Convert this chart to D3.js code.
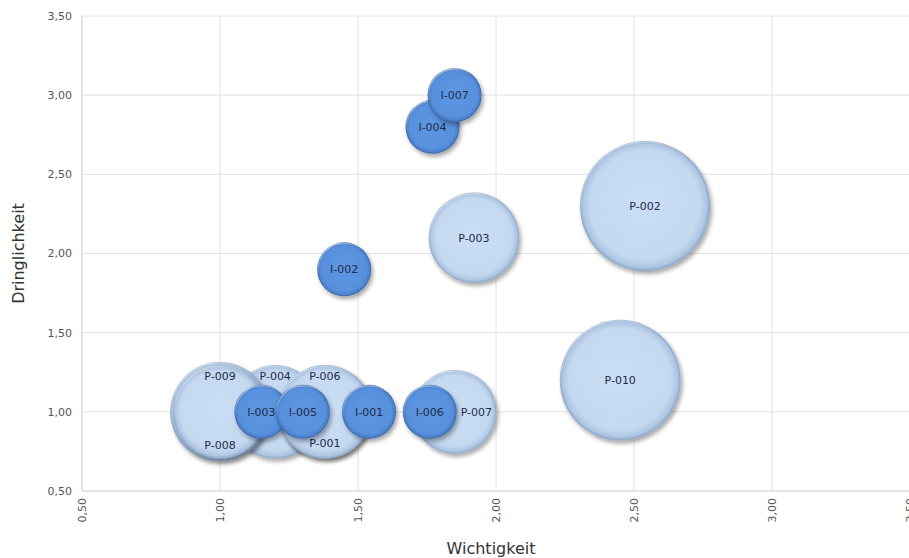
<!DOCTYPE html>
<html>
<head>
<meta charset="utf-8">
<script src="https://cdn.jsdelivr.net/npm/d3@7"></script>
<style>
  body { margin: 0; background: #fff; }
  svg { font-family: "DejaVu Sans", Verdana, sans-serif; }
</style>
</head>
<body>
<div id="chart"></div>
<script>
// bubbles: P series (light) drawn first, I series (dark) on top
var pNames = ["P-002", "P-010", "P-003", "P-004", "P-008", "P-009", "P-001", "P-006", "P-007"];
var pX     = [2.54, 2.45, 1.92, 1.20, 1.00, 1.00, 1.38, 1.38, 1.85];
var pY     = [2.30, 1.20, 2.10, 1.00, 1.00, 1.00, 1.00, 1.00, 1.00];
var pSize  = [5.8, 5.0, 2.8, 3.0, 3.4, 3.0, 3.0, 3.0, 2.4];
var pLabel = ["c", "c", "c", "t", "b", "t", "b", "t", "r"];

var iNames = ["I-002", "I-004", "I-007", "I-003", "I-005", "I-001", "I-006"];
var iX     = [1.45, 1.77, 1.85, 1.15, 1.30, 1.54, 1.76];
var iY     = [1.90, 2.80, 3.00, 1.00, 1.00, 1.00, 1.00];
var iSize  = [1, 1, 1, 1, 1, 1, 1];
var iLabel = ["c", "c", "c", "c", "c", "c", "c"];

var xTicks = [0.5, 1.0, 1.5, 2.0, 2.5, 3.0, 3.5];
var yTicks = [0.5, 1.0, 1.5, 2.0, 2.5, 3.0, 3.5];

var width = 909, height = 558;
var margin = {left: 82, top: 16, right: -1, bottom: 67};

var de = d3.formatLocale({decimal: ",", thousands: ".", grouping: [3], currency: ["", " €"]});
var fmt = de.format(".2f");

var svg = d3.select("#chart").append("svg")
    .attr("width", width)
    .attr("height", height);

var x = d3.scaleLinear().domain([0.5, 3.5]).range([margin.left, width - margin.right]);
var y = d3.scaleLinear().domain([0.5, 3.5]).range([height - margin.bottom, margin.top]);
var r = d3.scaleSqrt().domain([0, 1]).range([0, 27]);

var defs = svg.append("defs");
var shadow = defs.append("filter").attr("id", "shadow")
    .attr("x", "-30%").attr("y", "-30%").attr("width", "160%").attr("height", "160%");
shadow.append("feDropShadow")
    .attr("dx", 2).attr("dy", 3).attr("stdDeviation", 2.2)
    .attr("flood-color", "#000").attr("flood-opacity", 0.35);

function bevel(id, c0, c1, c2, c3) {
    var g = defs.append("radialGradient").attr("id", id)
        .attr("cx", "50%").attr("cy", "50%").attr("r", "50%")
        .attr("fx", "48%").attr("fy", "44%");
    g.append("stop").attr("offset", "0%").attr("stop-color", c0);
    g.append("stop").attr("offset", "84%").attr("stop-color", c1);
    g.append("stop").attr("offset", "95%").attr("stop-color", c2);
    g.append("stop").attr("offset", "100%").attr("stop-color", c3);
    var h = defs.append("linearGradient").attr("id", id + "-hi")
        .attr("x1", 0).attr("y1", 0).attr("x2", 0.6).attr("y2", 1);
    h.append("stop").attr("offset", "0%").attr("stop-color", "#fff").attr("stop-opacity", 0.75);
    h.append("stop").attr("offset", "45%").attr("stop-color", "#fff").attr("stop-opacity", 0);
}
bevel("gradP", "#cadef5", "#c4d8f0", "#aec5e2", "#8ba5c6");
bevel("gradI", "#5d97e3", "#5890dc", "#4a7ec8", "#34609f");

// grid
svg.append("g").selectAll("line.v")
    .data(xTicks).enter().append("line")
    .attr("x1", function(d) { return x(d); })
    .attr("x2", function(d) { return x(d); })
    .attr("y1", y(0.5)).attr("y2", y(3.5))
    .style("stroke", "#e2e2e2");
svg.append("g").selectAll("line.h")
    .data(yTicks).enter().append("line")
    .attr("x1", x(0.5)).attr("x2", x(3.5))
    .attr("y1", function(d) { return y(d); })
    .attr("y2", function(d) { return y(d); })
    .style("stroke", "#e2e2e2");
svg.append("line")
    .attr("x1", x(0.5)).attr("x2", x(0.5)).attr("y1", y(0.5)).attr("y2", y(3.5))
    .style("stroke", "#d6d6d6");
svg.append("line")
    .attr("x1", x(0.5)).attr("x2", x(3.5)).attr("y1", y(0.5)).attr("y2", y(0.5))
    .style("stroke", "#d6d6d6");

// tick labels
svg.append("g").selectAll("text")
    .data(yTicks).enter().append("text")
    .attr("x", margin.left - 10)
    .attr("y", function(d) { return y(d); })
    .attr("dy", "0.35em")
    .attr("text-anchor", "end")
    .style("font-size", "11px")
    .style("fill", "#555")
    .text(function(d) { return fmt(d); });

svg.append("g").selectAll("text")
    .data(xTicks).enter().append("text")
    .attr("transform", function(d) { return "translate(" + x(d) + "," + (y(0.5) + 7) + ") rotate(-90)"; })
    .attr("dy", "0.35em")
    .attr("text-anchor", "end")
    .style("font-size", "11px")
    .style("fill", "#555")
    .text(function(d) { return fmt(d); });

// axis titles
svg.append("text")
    .attr("x", 491).attr("y", height - 4)
    .attr("text-anchor", "middle")
    .style("font-size", "16px")
    .style("fill", "#333")
    .text("Wichtigkeit");
svg.append("text")
    .attr("transform", "translate(24," + y(2.0) + ") rotate(-90)")
    .attr("text-anchor", "middle")
    .style("font-size", "16px")
    .style("fill", "#333")
    .text("Dringlichkeit");

function series(names, xs, ys, sizes, labels, grad) {
    var data = names.map(function(n, i) {
        return {name: n, x: xs[i], y: ys[i], size: sizes[i], label: labels[i]};
    });
    var g = svg.append("g");
    var b = g.selectAll("g.bubble").data(data).enter().append("g")
        .attr("class", "bubble");
    b.append("circle")
        .attr("cx", function(d) { return x(d.x); })
        .attr("cy", function(d) { return y(d.y); })
        .attr("r", function(d) { return r(d.size); })
        .attr("filter", "url(#shadow)")
        .style("fill", "url(#" + grad + ")");
    b.append("circle")
        .attr("cx", function(d) { return x(d.x); })
        .attr("cy", function(d) { return y(d.y); })
        .attr("r", function(d) { return r(d.size) - 1; })
        .style("fill", "none")
        .style("stroke", "url(#" + grad + "-hi)")
        .style("stroke-width", 1.5);
    return data;
}

function labelsFor(data) {
    svg.append("g").selectAll("text")
        .data(data).enter().append("text")
        .attr("x", function(d) {
            var rr = r(d.size);
            return x(d.x) + (d.label === "r" ? rr * 0.52 : 0);
        })
        .attr("y", function(d) {
            var rr = r(d.size);
            if (d.label === "t") return y(d.y) - rr * 0.76;
            if (d.label === "b") return y(d.y) + rr * 0.66;
            return y(d.y);
        })
        .attr("dy", "0.35em")
        .attr("text-anchor", "middle")
        .style("font-size", "11px")
        .style("fill", "#1e2b48")
        .text(function(d) { return d.name; });
}

var pData = series(pNames, pX, pY, pSize, pLabel, "gradP");
labelsFor(pData);
var iData = series(iNames, iX, iY, iSize, iLabel, "gradI");
labelsFor(iData);
</script>
</body>
</html>
